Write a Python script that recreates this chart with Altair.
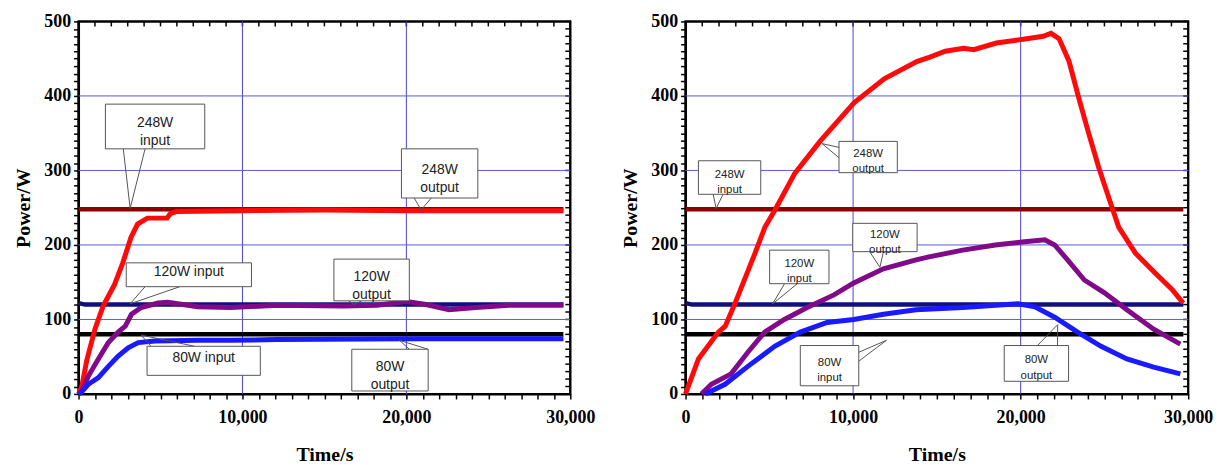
import altair as alt
import pandas as pd

# ---------------- data ----------------
# Left panel: constant-power experiments
L_in248_t = [0, 29580]
L_in248_p = [248, 248]
L_in120_t = [0, 400, 29580]
L_in120_p = [122, 120, 120]
L_in80_t = [0, 29580]
L_in80_p = [80, 80]

L_out248_t = [0, 200, 500, 1000, 1500, 2200, 2700, 3200, 3600, 4200, 5400, 5600, 6000, 10000, 15000, 20000, 25000, 29580]
L_out248_p = [0, 10, 45, 87, 118, 147, 176, 210, 228, 236, 236, 242, 245, 246, 247, 246, 246, 246]
L_out120_t = [0, 200, 600, 1210, 1820, 2420, 2850, 3230, 3820, 4850, 5450, 7270, 9270, 12100, 16180, 18200, 20000, 21200, 22600, 24240, 26240, 29580]
L_out120_p = [0, 3, 24, 47, 69, 83, 91, 107, 116, 122, 123, 117, 116, 119, 118, 119, 124, 120, 113, 116, 119, 119]
L_out80_t = [0, 200, 600, 1210, 1820, 2420, 3030, 3640, 4670, 7270, 9270, 12100, 20240, 29580]
L_out80_p = [0, 3, 13, 22, 37, 51, 62, 69, 71, 72, 72, 73, 74, 74]

# Right panel: varying-power experiments
R_in248_t = [0, 29710]
R_in248_p = [248, 248]
R_in120_t = [0, 400, 29710]
R_in120_p = [122, 120, 120]
R_in80_t = [0, 29710]
R_in80_p = [80, 80]

R_out248_t = [0, 770, 1960, 2370, 2960, 4150, 4740, 5340, 6520, 8060, 10070, 11860, 13800, 14580, 15500, 16590, 17200, 18550, 20150, 21340, 21810, 22290, 22880, 23470, 24070, 24660, 25250, 25850, 26850, 28040, 29050, 29700]
R_out248_p = [0, 47, 83, 91, 122, 189, 224, 247, 296, 340, 391, 423, 446, 452, 460, 464, 462, 471, 476, 480, 484, 477, 447, 397, 349, 304, 264, 224, 189, 162, 140, 122]
R_out120_t = [950, 1540, 2720, 3720, 4720, 5900, 7260, 8860, 10040, 11810, 13760, 14530, 16540, 18490, 20080, 21440, 22030, 22800, 23800, 24980, 26340, 27940, 29530]
R_out120_p = [0, 13, 27, 56, 83, 100, 116, 133, 149, 168, 180, 184, 193, 200, 204, 207, 200, 180, 153, 136, 113, 87, 67]
R_out80_t = [1180, 2360, 3720, 5320, 6850, 8450, 10040, 11810, 13760, 16540, 19850, 20850, 22030, 23400, 24800, 26340, 27940, 29530]
R_out80_p = [0, 13, 37, 64, 83, 96, 100, 107, 113, 116, 121, 117, 103, 83, 64, 47, 36, 27]

series_names = ["248W input", "120W input", "80W input", "248W output", "120W output", "80W output"]
series_colors = ["#8e0000", "#10107e", "#000000", "#ff0a0a", "#800a88", "#1a1aff"]

# callout annotations: text, box (t1, t2, p1, p2), pointer polyline (base, tip, base)
L_callouts = [
    ("248W\ninput", 1640, 7700, 329, 389, [(2730, 329), (3150, 249), (4060, 329)]),
    ("120W  input", 2910, 10550, 144, 176, [(4060, 144), (3150, 121), (6180, 144)]),
    ("80W  input", 4180, 11090, 25, 64, [(4420, 64), (3820, 79), (7090, 64)]),
    ("248W\noutput", 19700, 24360, 263, 329, [(20480, 263), (20900, 247), (21520, 263)]),
    ("120W\noutput", 15580, 20180, 125, 181, [(16480, 125), (16800, 120), (17270, 125)]),
    ("80W\noutput", 16670, 21330, 4, 60, [(20180, 60), (19580, 72), (21330, 60)]),
]
R_callouts = [
    ("248W\ninput", 770, 4490, 268, 313, [(1650, 268), (1830, 249), (2240, 268)]),
    ("248W\noutput", 9160, 12640, 297, 339, [(9160, 331), (8150, 336), (9160, 317)]),
    ("120W\ninput", 5020, 8560, 148, 193, [(5910, 148), (5200, 121), (6670, 148)]),
    ("120W\noutput", 9980, 13820, 191, 229, [(10990, 191), (11600, 170), (11810, 191)]),
    ("80W\ninput", 6850, 10340, 11, 65, [(10340, 56), (11990, 72), (10340, 44)]),
    ("80W\noutput", 19020, 22860, 17, 65, [(21000, 65), (22210, 93), (22200, 65)]),
]

x_major = [10000, 20000]
y_major = [100, 200, 300, 400]
x_vals = list(range(0, 30001, 1000))
y_vals = list(range(0, 501, 10))

SERIF = "Liberation Serif"
SANS = "Liberation Sans"


def long_df(pairs):
    rows = []
    for name, ts, ps in pairs:
        for t, p in zip(ts, ps):
            rows.append({"series": name, "t": t, "p": p})
    return pd.DataFrame(rows)


def make_panel(inputs, outputs, callouts, width, fsize):
    xs = alt.Scale(domain=[0, 30000], nice=False, zero=False)
    ys = alt.Scale(domain=[0, 500], nice=False, zero=False)
    xaxis = alt.Axis(
        values=x_vals, title="Time/s", orient="bottom", grid=False,
        labelExpr="datum.value % 10000 === 0 ? format(datum.value, ',') : ''",
        labelOverlap=False, labelFlush=False, tickSize=5,
        labelPadding=10, titlePadding=18,
    )
    yaxis = alt.Axis(
        values=y_vals, title="Power/W", orient="left", grid=False,
        labelExpr="datum.value % 100 === 0 ? datum.value : ''",
        labelOverlap=False, labelFlush=False, tickSize=5,
        labelPadding=3, titlePadding=10,
    )

    def X(field="t"):
        return alt.X(f"{field}:Q", scale=xs, axis=xaxis)

    def Y(field="p"):
        return alt.Y(f"{field}:Q", scale=ys, axis=yaxis)

    col = alt.Color("series:N", scale=alt.Scale(domain=series_names, range=series_colors), legend=None)

    # plot frame spanning the full scale domains, and inward ticks on top / right edges
    frame_df = pd.DataFrame({"t": [0], "t2": [30000], "p": [0], "p2": [500]})
    frame = alt.Chart(frame_df).mark_rect(fillOpacity=0, stroke="black", strokeWidth=2).encode(
        x=X(), x2="t2:Q", y=Y(), y2="p2:Q")
    top_ticks = alt.Chart(pd.DataFrame({"t": x_vals})).mark_rule(color="black", strokeWidth=1.5).encode(
        x=X(), y=alt.value(0), y2=alt.value(5))
    right_ticks = alt.Chart(pd.DataFrame({"p": y_vals})).mark_rule(color="black", strokeWidth=1.5).encode(
        y=Y(), x=alt.value(width - 5), x2=alt.value(width))

    # blue major grid lines
    vgrid = alt.Chart(pd.DataFrame({"t": x_major})).mark_rule(color="#4646d8", strokeWidth=1).encode(x=X())
    hgrid = alt.Chart(pd.DataFrame({"p": y_major})).mark_rule(color="#5a5ae0", strokeWidth=1).encode(y=Y())

    din = long_df(inputs)
    dout = long_df(outputs)
    l_in = alt.Chart(din).mark_line(strokeWidth=4.5).encode(x=X(), y=Y(), color=col, detail="series:N")
    l_out = alt.Chart(dout).mark_line(strokeWidth=5).encode(x=X(), y=Y(), color=col, detail="series:N")

    boxes = pd.DataFrame([
        {"id": i, "label": c[0], "t": c[1], "t2": c[2], "p": c[3], "p2": c[4],
         "tm": (c[1] + c[2]) / 2, "pm": (c[3] + c[4]) / 2}
        for i, c in enumerate(callouts)
    ])
    ptr = pd.DataFrame([
        {"id": i, "seq": k, "t": pt[0], "p": pt[1]}
        for i, c in enumerate(callouts) for k, pt in enumerate(c[5])
    ])
    pointers = alt.Chart(ptr).mark_line(color="#555555", strokeWidth=1).encode(
        x=X(), y=Y(), detail="id:N", order="seq:Q")
    rects = alt.Chart(boxes).mark_rect(fill="white", stroke="#555555", strokeWidth=1).encode(
        x=X(), x2="t2:Q", y=Y(), y2="p2:Q")
    texts = alt.Chart(boxes).mark_text(font=SANS, fontSize=fsize, color="#222222",
                                       lineBreak="\n", lineHeight=fsize + 4, baseline="middle",
                                       dy=-3).encode(
        x=X("tm"), y=Y("pm"), text="label:N")

    return alt.layer(frame, top_ticks, right_ticks, vgrid, hgrid, l_in, l_out,
                     pointers, rects, texts).properties(width=width, height=375)


left = make_panel(
    [("248W input", L_in248_t, L_in248_p), ("120W input", L_in120_t, L_in120_p), ("80W input", L_in80_t, L_in80_p)],
    [("248W output", L_out248_t, L_out248_p), ("120W output", L_out120_t, L_out120_p), ("80W output", L_out80_t, L_out80_p)],
    L_callouts, 495, 14)
right = make_panel(
    [("248W input", R_in248_t, R_in248_p), ("120W input", R_in120_t, R_in120_p), ("80W input", R_in80_t, R_in80_p)],
    [("248W output", R_out248_t, R_out248_p), ("120W output", R_out120_t, R_out120_p), ("80W output", R_out80_t, R_out80_p)],
    R_callouts, 506, 11.5)

chart = alt.hconcat(left, right, spacing=24).properties(
    padding={"left": 5, "top": 2, "right": 5, "bottom": 0},
    background="white",
).configure_view(stroke="black", strokeWidth=2).configure_axis(
    labelFont=SERIF, labelFontWeight="bold", labelFontSize=18, labelColor="black",
    titleFont=SERIF, titleFontWeight="bold", titleFontSize=20, titleColor="black",
    domainColor="black", domainWidth=2, tickColor="black", tickWidth=1.5,
)

chart.save("out.html", embed_options={"renderer": "svg", "actions": False})
